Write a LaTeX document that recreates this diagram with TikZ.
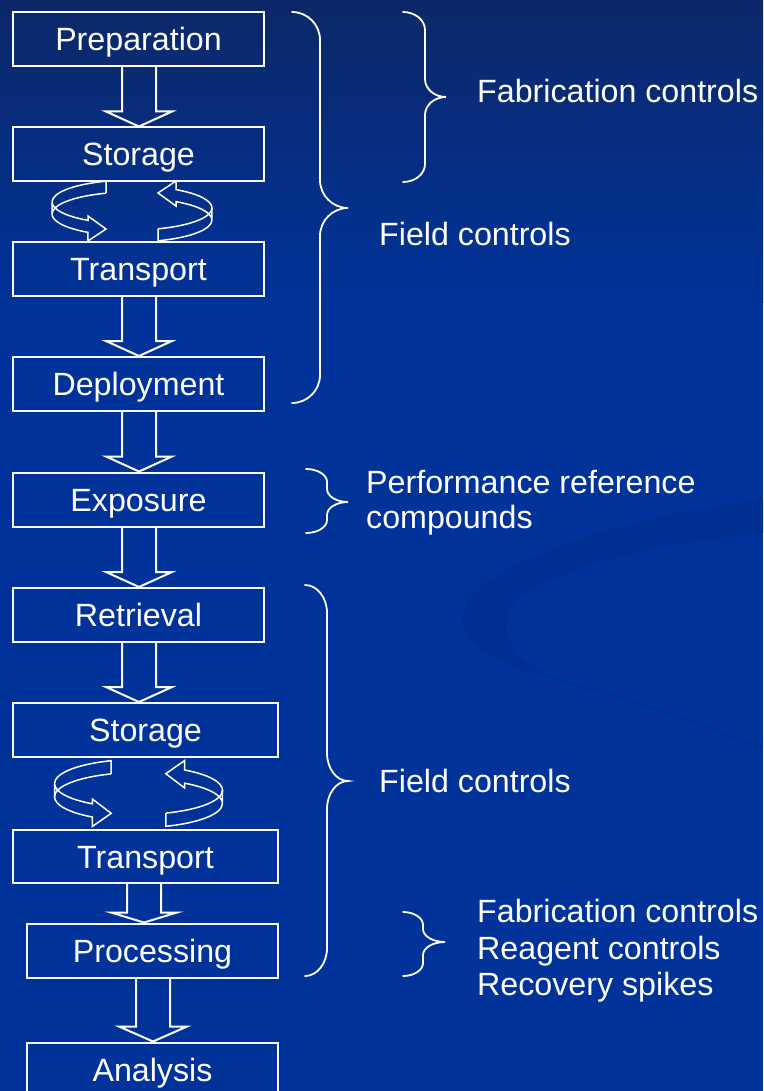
\documentclass[tikz,border=0pt]{standalone}
\usepackage{fontspec}
\setmainfont{Liberation Sans}
\usetikzlibrary{calc}
\definecolor{bgnavy}{RGB}{12,40,104}
\definecolor{bgblue}{RGB}{0,51,153}
\definecolor{swooshc}{RGB}{0,47,146}

\tikzset{
  flowbox/.style={draw=white, line width=2pt, inner sep=0pt, text=white,
    minimum width=251pt, minimum height=54pt, text height=23pt, text depth=0pt,
    font=\fontsize{32.2}{36}\selectfont},
  lbl/.style={text=white, inner sep=0pt, font=\fontsize{32.2}{36}\selectfont},
  blockarr/.style={draw=white, line width=2pt, line join=miter},
  ring/.style={draw=white, line width=1.5pt, line join=miter},
  brc/.style={draw=white, line width=1.8pt, line cap=round},
}

% block arrow: #1 from node, #2 to node, #3 x centre, #4 shaft half width, #5 head half width, #6 head length
\newcommand\blockarrow[6]{%
  \coordinate (ba-x) at (#3,0);
  \path (ba-x |- #1.south) coordinate (ba-t) (ba-x |- #2.north) coordinate (ba-b);
  \draw[blockarr] ([xshift=-#4pt]ba-t) -- ([xshift=-#4pt,yshift=#6pt]ba-b)
    -- ([xshift=-#5pt,yshift=#6pt]ba-b) -- (ba-b) -- ([xshift=#5pt,yshift=#6pt]ba-b)
    -- ([xshift=#4pt,yshift=#6pt]ba-b) -- ([xshift=#4pt]ba-t);}

% one half of the circular ribbon arrow
\newcommand\cycarrowhalf{%
  \draw[ring] (-26,-17.8) -- (-26,-29.8)
    arc[start angle=251, end angle=180, x radius=80, y radius=22]
    -- (-80,3) arc[start angle=180, end angle=123.4, x radius=80, y radius=22]
    -- (-44,30) -- (-26,18) -- (-44,5) -- (-44,9.36)
    arc[start angle=123.4, end angle=180, x radius=80, y radius=22];
  \draw[ring] (-80,3) arc[start angle=180, end angle=251, x radius=80, y radius=22];}

\newcommand\cyclearrows[4]{%
  \begin{scope}[shift={(#1,#2)}, xscale=#3, yscale=#4]
    \cycarrowhalf
    \begin{scope}[rotate=180]\cycarrowhalf\end{scope}
  \end{scope}}

% curly brace: #1 x0, #2 xv, #3 xtip, #4 ytop, #5 ymid, #6 ybot, #7 corner
\newcommand\curlybrace[7]{%
  \draw[brc] (#1,#4) .. controls ({#1+0.552*(#2-#1)},#4) and (#2,{#4+0.448*#7}) .. (#2,{#4+#7})
    -- (#2,{#5-#7}) .. controls (#2,{#5-0.448*#7}) and ({#3-0.552*(#3-#2)},#5) .. (#3,#5)
    .. controls ({#3-0.552*(#3-#2)},#5) and (#2,{#5+0.448*#7}) .. (#2,{#5+#7})
    -- (#2,{#6-#7}) .. controls (#2,{#6-0.448*#7}) and ({#1+0.552*(#2-#1)},#6) .. (#1,#6);}

\begin{document}
\begin{tikzpicture}[x=1pt, y=-1pt]
\useasboundingbox (0,0) rectangle (763,1091);
\clip (0,0) rectangle (763,1091);
% background
\fill[bgblue] (0,300) rectangle (763,1091);
\shade[top color=bgnavy, bottom color=bgblue] (0,0) rectangle (763,302);
\fill[swooshc] (763,500) .. controls (600,518) and (455,575) .. (462,622)
  .. controls (468,655) and (520,672) .. (573,684)
  .. controls (525,668) and (500,645) .. (507,617)
  .. controls (515,578) and (640,545) .. (763,533) -- cycle;
\draw[swooshc, line width=3pt] (560,680) .. controls (630,700) and (700,725) .. (763,747);

% boxes
\node[flowbox] (prep)   at (138.5,39)    {Preparation};
\node[flowbox] (stor1)  at (138.5,154.5) {Storage};
\node[flowbox] (trans1) at (138.5,269)   {Transport};
\node[flowbox] (deploy) at (138.5,384)   {Deployment};
\node[flowbox] (expo)   at (138.5,499.5) {Exposure};
\node[flowbox] (retr)   at (138.5,615)   {Retrieval};
\node[flowbox, minimum width=265pt] (stor2)  at (145.5,730)   {Storage};
\node[flowbox, minimum width=265pt, minimum height=53pt] (trans2) at (145.5,856.5) {Transport};
\node[flowbox] (proc)   at (152.5,950.5) {Processing};
\node[flowbox] (anal)   at (152.5,1069.5) {Analysis};

% block arrows
\blockarrow{prep}{stor1}{139}{17}{33}{15}
\blockarrow{trans1}{deploy}{139}{17}{33}{15}
\blockarrow{deploy}{expo}{139}{17}{33}{15}
\blockarrow{expo}{retr}{139}{17}{33}{15}
\blockarrow{retr}{stor2}{139}{17}{33}{15}
\blockarrow{trans2}{proc}{144}{17}{33}{10}
\blockarrow{proc}{anal}{153}{17}{34}{15}

% circular arrows
\cyclearrows{132}{211}{1}{1}
\cyclearrows{138.5}{793.5}{1.05}{1.1}

% braces
\curlybrace{403}{425}{446}{12}{97}{182}{18}
\curlybrace{292}{320}{348}{12}{208}{403}{28}
\curlybrace{306}{327}{348}{469}{502}{533}{13}
\curlybrace{305}{327}{348}{585}{781}{976}{28}
\curlybrace{403}{423}{445}{912}{942}{976}{13}

% labels
\node[lbl, anchor=base west] (fab1)   at (477,103) {Fabrication controls};
\node[lbl, anchor=base west] (field1) at (379,246) {Field controls};
\node[lbl, anchor=base west] (prc1)   at (366,493) {Performance reference};
\node[lbl, anchor=base west] (prc2)   at (366,528) {compounds};
\node[lbl, anchor=base west] (field2) at (379,792) {Field controls};
\node[lbl, anchor=base west] (fab2)   at (477,922) {Fabrication controls};
\node[lbl, anchor=base west] (reag)   at (477,959) {Reagent controls};
\node[lbl, anchor=base west] (recov)  at (477,995) {Recovery spikes};
\end{tikzpicture}
\end{document}
